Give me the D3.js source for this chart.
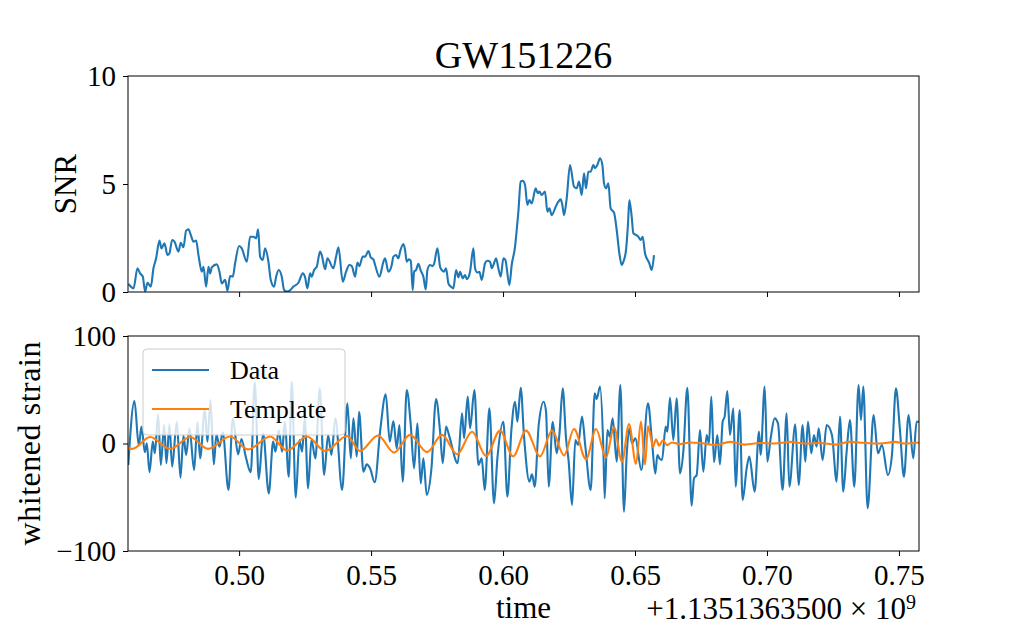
<!DOCTYPE html>
<html><head><meta charset="utf-8">
<script src="https://cdn.jsdelivr.net/npm/d3@7"></script>
<style>
body{margin:0;background:#fff}
svg{display:block}
text{font-family:'Liberation Serif','Times New Roman',serif;fill:#000}
</style>
</head><body><svg id="c" width="1021" height="631"></svg>
<script>
// ---------- data ----------
const title = "GW151226";
const xTicks = [0.50, 0.55, 0.60, 0.65, 0.70, 0.75];
const snrTicks = [0, 5, 10];
const strainTicks = [-100, 0, 100];
const xDomain = [0.4579, 0.7576];
const snrDomain = [0, 10];
const strainDomain = [-100, 100];
const seriesNames = ["Data", "Template"];

const snrT = [0.45808,0.45897,0.45998,0.46149,0.46250,0.46351,0.46439,0.46528,0.46654,0.46755,0.46856,0.46982,0.47058,0.47172,0.47285,0.47361,0.47462,0.47551,0.47702,0.47790,0.47891,0.47992,0.48081,0.48169,0.48270,0.48371,0.48460,0.48586,0.48649,0.48750,0.48838,0.48902,0.48965,0.49154,0.49255,0.49343,0.49470,0.49558,0.49659,0.49760,0.49848,0.50000,0.50101,0.50290,0.50417,0.50543,0.50644,0.50720,0.50795,0.50896,0.50985,0.51111,0.51199,0.51326,0.51402,0.51503,0.51616,0.51705,0.51806,0.51907,0.52058,0.52247,0.52412,0.52500,0.52588,0.52689,0.52753,0.52841,0.52942,0.53068,0.53131,0.53258,0.53346,0.53573,0.53674,0.53763,0.53927,0.54053,0.54179,0.54268,0.54394,0.54482,0.54558,0.54684,0.54773,0.54899,0.54987,0.55088,0.55152,0.55316,0.55467,0.55530,0.55657,0.55783,0.55846,0.55947,0.56035,0.56098,0.56225,0.56288,0.56351,0.56427,0.56503,0.56578,0.56629,0.56705,0.56793,0.56881,0.56982,0.57071,0.57134,0.57235,0.57336,0.57386,0.57513,0.57614,0.57677,0.57765,0.57841,0.57929,0.58018,0.58119,0.58220,0.58308,0.58371,0.58472,0.58561,0.58624,0.58750,0.58876,0.58939,0.59028,0.59104,0.59192,0.59318,0.59407,0.59508,0.59571,0.59659,0.59735,0.59823,0.59912,0.60013,0.60088,0.60240,0.60328,0.60455,0.60518,0.60581,0.60669,0.60745,0.60833,0.60922,0.60997,0.61086,0.61237,0.61313,0.61376,0.61465,0.61591,0.61679,0.61755,0.61843,0.61995,0.62096,0.62184,0.62247,0.62311,0.62412,0.62538,0.62689,0.62790,0.62879,0.62980,0.63068,0.63144,0.63232,0.63321,0.63422,0.63485,0.63573,0.63674,0.63763,0.63826,0.63902,0.63990,0.64078,0.64205,0.64306,0.64407,0.64495,0.64558,0.64659,0.64735,0.64785,0.64874,0.64937,0.65038,0.65126,0.65215,0.65290,0.65379,0.65543,0.65631,0.65720];
const snrV = [0.37,0.25,0.17,1.10,0.86,0.71,0.02,0.43,0.25,1.10,1.56,2.38,2.02,2.25,1.71,1.79,2.41,2.33,1.87,2.28,2.07,2.84,2.90,2.64,2.33,2.38,1.71,0.94,1.17,0.25,1.17,0.86,1.14,1.28,0.94,0.40,0.56,0.06,0.74,0.71,1.33,2.13,2.02,1.40,2.56,2.56,2.48,2.90,1.64,1.48,2.02,1.40,0.56,0.25,0.71,1.02,0.71,0.09,0.02,0.06,0.25,0.43,0.86,0.68,0.17,0.86,0.71,1.02,1.17,1.87,1.71,1.05,1.56,1.10,1.64,2.07,0.48,0.94,1.25,1.20,0.71,1.36,1.20,1.64,1.64,1.90,1.60,1.51,1.25,0.71,1.40,1.56,0.94,1.25,1.64,1.71,1.56,1.87,2.22,1.94,1.40,1.51,1.45,0.09,0.94,1.02,1.30,0.99,0.71,0.12,1.02,1.25,1.20,1.30,2.02,1.17,1.02,0.94,1.10,0.40,0.25,0.17,1.02,0.68,0.94,0.63,0.79,0.59,0.94,2.02,1.10,0.90,0.94,0.56,1.33,1.45,1.40,1.10,1.33,1.56,1.10,0.71,1.56,1.48,0.32,1.25,2.10,2.87,3.72,5.11,5.15,4.95,4.03,4.26,4.10,4.80,4.57,4.65,4.49,4.65,3.72,3.87,3.56,3.95,4.18,4.29,4.03,3.56,4.34,5.88,4.88,4.80,5.11,4.49,5.49,4.80,5.57,5.57,5.88,5.73,5.88,6.19,5.88,5.03,4.80,5.03,3.87,3.67,2.87,1.79,1.25,1.40,1.94,3.18,4.26,3.49,2.72,2.64,2.56,2.41,2.56,1.79,1.33,1.02,1.71];

const dataT = [0.4580,0.46035,0.46199,0.46301,0.46427,0.46503,0.46604,0.46730,0.46806,0.46932,0.47033,0.47159,0.47247,0.47361,0.47462,0.47639,0.47778,0.47891,0.47992,0.48119,0.48295,0.48422,0.48523,0.48699,0.48801,0.48914,0.49040,0.49141,0.49255,0.49381,0.49596,0.49760,0.49962,0.50088,0.50265,0.50442,0.50593,0.50745,0.50909,0.51124,0.51288,0.51376,0.51503,0.51629,0.51730,0.51881,0.51995,0.52146,0.52285,0.52386,0.52487,0.52614,0.52740,0.52891,0.53056,0.53220,0.53371,0.53497,0.53649,0.53902,0.54104,0.54230,0.54331,0.54457,0.54545,0.54710,0.54836,0.54962,0.55139,0.55341,0.55556,0.55707,0.55846,0.55972,0.56073,0.56199,0.56351,0.56503,0.56629,0.56755,0.56881,0.56982,0.57109,0.57285,0.57462,0.57614,0.57715,0.57841,0.57967,0.58283,0.58447,0.58523,0.58662,0.58750,0.58914,0.59066,0.59192,0.59306,0.59482,0.59659,0.59785,0.60013,0.60164,0.60316,0.60455,0.60543,0.60669,0.60795,0.60997,0.61098,0.61199,0.61351,0.61540,0.61629,0.61730,0.61881,0.62033,0.62134,0.62260,0.62386,0.62487,0.62614,0.62740,0.62841,0.62992,0.63119,0.63321,0.63472,0.63548,0.63674,0.63801,0.63851,0.63952,0.64040,0.64154,0.64306,0.64444,0.64583,0.64684,0.64785,0.64886,0.65013,0.65240,0.65492,0.65644,0.65770,0.65846,0.65922,0.66023,0.66162,0.66225,0.66326,0.66452,0.66578,0.66705,0.66831,0.66982,0.67146,0.67235,0.67336,0.67462,0.67588,0.67715,0.67803,0.67891,0.67992,0.68119,0.68220,0.68321,0.68396,0.68497,0.68598,0.68725,0.68813,0.68965,0.69078,0.69230,0.69331,0.69533,0.69697,0.69760,0.69912,0.70013,0.70139,0.70290,0.70417,0.70593,0.70745,0.70846,0.71073,0.71199,0.71351,0.71452,0.71553,0.71679,0.71780,0.71881,0.71957,0.72109,0.72260,0.72462,0.72639,0.72765,0.72891,0.73018,0.73144,0.73308,0.73472,0.73561,0.73649,0.73813,0.74040,0.74205,0.74356,0.74583,0.74735,0.74886,0.75038,0.75189,0.75366,0.75543,0.75669,0.75760];
const dataV = [-20,39.5,-2.0,15.7,-8.2,0.2,-26.8,1.7,-9.1,27.1,-20.0,17.2,-18.4,17.8,-21.6,20.3,-31.8,7.3,-10.7,14.1,-24.7,19.7,-13.8,31.2,1.7,40.5,-19.4,8.5,-2.9,10.4,-43.3,23.4,-10.1,4.2,-13.8,-26.8,56.9,-33.0,9.5,-46.4,1.7,-7.6,12.6,-7.6,20.3,-30.9,57.5,-50.4,3.3,-7.6,23.4,-41.7,3.3,-13.8,51.3,-29.3,7.9,-10.7,23.4,-43.3,37.4,-13.8,23.4,-12.2,29.6,-26.2,-19.4,-23.1,-36.1,11.0,45.7,1.7,21.0,-4.5,17.2,-35.5,49.8,17.2,-23.1,18.8,-37.1,-13.8,-47.9,-23.7,41.4,11.0,-18.4,15.7,6.4,-18.4,28.1,4.8,43.6,14.1,49.8,-20.0,-13.8,-43.3,32.7,-55.7,-13.8,20.3,-49.5,12.6,38.9,20.3,51.9,6.4,-35.5,-28.7,-40.2,17.2,38.9,29.6,-40.2,20.3,-9.1,7.9,51.3,4.8,-16.9,-57.2,3.3,-1.4,25.0,-2.9,-43.3,46.7,41.4,52.9,-6.0,-51.0,12.6,6.4,23.4,-16.9,54.4,-63.4,-10.7,14.1,0.2,4.8,-24.7,37.4,1.7,-28.0,-10.7,-13.8,-15.3,15.7,11.0,42.6,3.3,42.0,-27.8,-7.6,51.9,-57.8,-32.4,-29.3,12.6,-26.2,7.9,0.2,43.6,-17.5,7.9,-19.4,20.3,25.0,48.8,7.9,32.7,-40.2,31.2,-52.6,-23.1,-12.2,-44.8,11.0,-10.7,52.9,-16.9,4.8,23.4,18.8,-43.3,28.0,-40.2,17.8,-38.6,17.2,-16.9,20.3,-9.1,7.9,-2.9,14.1,-15.3,17.2,7.9,-35.5,25.0,-44.8,-7.6,21.9,-40.2,54.4,21.9,52.9,-60.3,26.5,-9.1,-1.4,-29.3,-10.7,51.3,12.6,-30.9,26.5,-13.8,20.3,20.3];

const tmplT = [0.45795,0.45947,0.46629,0.47386,0.48144,0.48826,0.49659,0.50341,0.51174,0.51818,0.52576,0.53258,0.54091,0.54583,0.55265,0.55871,0.56477,0.57121,0.57689,0.58258,0.58826,0.59356,0.59886,0.60379,0.60871,0.61402,0.61856,0.62311,0.62689,0.63144,0.63523,0.63902,0.64205,0.64508,0.64773,0.65038,0.65227,0.65379,0.65492,0.65606,0.65682,0.65795,0.65909,0.66061,0.66212,0.66402,0.66705,0.67083,0.67462,0.68030,0.68598,0.69167,0.69735,0.70303,0.70871,0.71439,0.72008,0.72576,0.73144,0.73712,0.74280,0.74848,0.75227,0.75758];
const tmplV = [-4,-5,6,-5,6,-5,6.5,-5.5,6.5,-6.5,6.5,-7,7,-7,7.5,-8.5,8,-8,8,-10,11,-11.6,12,-12,12,-12,12,-11,13.5,-14.7,13.5,-13,15,-17,18,-19,20.5,-19.5,16,5,-3,4,-2,3,-1.5,1,-0.5,1,0.5,-1.5,1.5,-1,0.5,0,1.5,0,0.5,-1,1.5,0.5,0,1.5,0,1];

// ---------- layout ----------
const svg = d3.select("#c");
const L = 128, R = 919;
const top1 = 76, bot1 = 292, top2 = 336, bot2 = 551;
const blue = "#1f77b4", orange = "#ff7f0e";
const LW = 2.1;

const x = d3.scaleLinear().domain(xDomain).range([L, R]);
const ySnr = d3.scaleLinear().domain(snrDomain).range([bot1, top1]);
const yStr = d3.scaleLinear().domain(strainDomain).range([bot2, top2]);

const defs = svg.append("defs");
defs.append("clipPath").attr("id","clip1").append("rect").attr("x",L).attr("y",top1).attr("width",R-L).attr("height",bot1-top1);
defs.append("clipPath").attr("id","clip2").append("rect").attr("x",L).attr("y",top2).attr("width",R-L).attr("height",bot2-top2);

// title
svg.append("text").attr("x",(L+R)/2).attr("y",68).attr("text-anchor","middle")
  .style("font-size","38px").text(title);

// ----- top panel -----
const snrData = snrT.map((t,i)=>[t,snrV[i]]);
svg.append("path").datum(snrData).attr("clip-path","url(#clip1)")
  .attr("fill","none").attr("stroke",blue).attr("stroke-width",LW).attr("stroke-linejoin","round")
  .attr("d", d3.line().x(d=>x(d[0])).y(d=>ySnr(d[1])).curve(d3.curveMonotoneX));

const gx1 = svg.append("g").attr("transform",`translate(0,${bot1})`)
  .call(d3.axisBottom(x).tickValues(xTicks).tickSize(5).tickFormat(""));
const gy1 = svg.append("g").attr("transform",`translate(${L},0)`)
  .call(d3.axisLeft(ySnr).tickValues(snrTicks).tickSize(5).tickPadding(7).tickFormat(d3.format("d")));
svg.append("rect").attr("x",L).attr("y",top1).attr("width",R-L).attr("height",bot1-top1)
  .attr("fill","none").attr("stroke","#000").attr("stroke-width",1);

svg.append("text").attr("transform",`translate(76,${(top1+bot1)/2}) rotate(-90)`)
  .attr("text-anchor","middle").style("font-size","31px").text("SNR");

// ----- bottom panel -----
const dData = dataT.map((t,i)=>[t,dataV[i]]);
const tData = tmplT.map((t,i)=>[t,tmplV[i]]);
const line2 = d3.line().x(d=>x(d[0])).y(d=>yStr(d[1])).curve(d3.curveMonotoneX);
svg.append("path").datum(dData).attr("clip-path","url(#clip2)")
  .attr("fill","none").attr("stroke",blue).attr("stroke-width",LW).attr("stroke-linejoin","round").attr("d",line2);
svg.append("path").datum(tData).attr("clip-path","url(#clip2)")
  .attr("fill","none").attr("stroke",orange).attr("stroke-width",LW).attr("stroke-linejoin","round").attr("d",line2);

const gx2 = svg.append("g").attr("transform",`translate(0,${bot2})`)
  .call(d3.axisBottom(x).tickValues(xTicks).tickSize(5).tickFormat(d3.format(".2f")));
gx2.selectAll("text").attr("y",34).attr("dy",0);
const gy2 = svg.append("g").attr("transform",`translate(${L},0)`)
  .call(d3.axisLeft(yStr).tickValues(strainTicks).tickSize(5).tickPadding(7).tickFormat(d3.format("d")));
svg.append("rect").attr("x",L).attr("y",top2).attr("width",R-L).attr("height",bot2-top2)
  .attr("fill","none").attr("stroke","#000").attr("stroke-width",1);

[gx1,gy1,gx2,gy2].forEach(g=>{
  g.select(".domain").remove();
  g.selectAll("line").attr("stroke","#000").attr("stroke-width",1);
  g.selectAll("text").style("font-size","29px").style("font-family","'Liberation Serif','Times New Roman',serif").attr("fill","#000");
});

svg.append("text").attr("transform",`translate(40,${(top2+bot2)/2}) rotate(-90)`)
  .attr("text-anchor","middle").style("font-size","32px")
  .attr("textLength",204).attr("lengthAdjust","spacing").text("whitened strain");

svg.append("text").attr("x",(L+R)/2).attr("y",618).attr("text-anchor","middle")
  .style("font-size","31px").text("time");

const off = svg.append("text").attr("x",R-3).attr("y",619).attr("text-anchor","end").style("font-size","31px");
off.append("tspan").text("+1.1351363500 × 10");
off.append("tspan").attr("dy",-10).style("font-size","20px").text("9");

// legend
const lg = svg.append("g");
lg.append("rect").attr("x",143).attr("y",349).attr("width",202).attr("height",86).attr("rx",4)
  .attr("fill","#fff").attr("fill-opacity",0.8).attr("stroke","#cccccc").attr("stroke-width",1);
const legendColors = [blue, orange];
const legendY = [370, 409];
seriesNames.forEach((n,i)=>{
  lg.append("line").attr("x1",152).attr("x2",209).attr("y1",legendY[i]).attr("y2",legendY[i])
    .attr("stroke",legendColors[i]).attr("stroke-width",LW);
  lg.append("text").attr("x",230).attr("y",legendY[i]+9).style("font-size","26px").text(n);
});
</script>
</body></html>
